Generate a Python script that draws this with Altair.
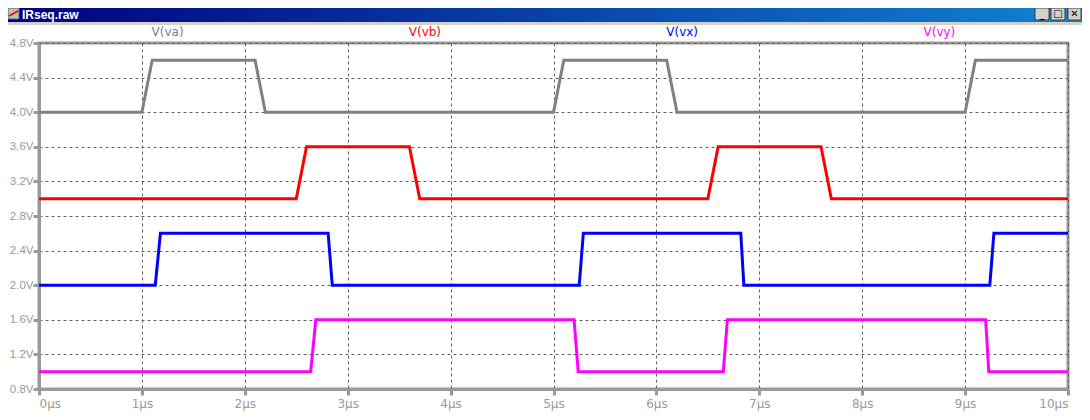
import altair as alt
import pandas as pd

# ---- data ----
t_va = [0, 1.0, 1.1, 2.1, 2.2, 5.0, 5.1, 6.1, 6.2, 9.0, 9.1, 10]
v_va = [4.0, 4.0, 4.6, 4.6, 4.0, 4.0, 4.6, 4.6, 4.0, 4.0, 4.6, 4.6]
t_vb = [0, 2.5, 2.6, 3.6, 3.7, 6.5, 6.6, 7.6, 7.7, 10]
v_vb = [3.0, 3.0, 3.6, 3.6, 3.0, 3.0, 3.6, 3.6, 3.0, 3.0]
t_vx = [0, 1.13, 1.18, 2.81, 2.85, 5.25, 5.29, 6.82, 6.85, 9.24, 9.28, 10]
v_vx = [2.0, 2.0, 2.6, 2.6, 2.0, 2.0, 2.6, 2.6, 2.0, 2.0, 2.6, 2.6]
t_vy = [0, 2.64, 2.69, 5.20, 5.24, 6.65, 6.69, 9.20, 9.23, 10]
v_vy = [1.0, 1.0, 1.6, 1.6, 1.0, 1.0, 1.6, 1.6, 1.0, 1.0]

series_names = ["V(va)", "V(vb)", "V(vx)", "V(vy)"]
series_colors = ["#808080", "#ff0000", "#0000ff", "#ff00ff"]
x_ticks = list(range(0, 11))
y_ticks = [0.8, 1.2, 1.6, 2.0, 2.4, 2.8, 3.2, 3.6, 4.0, 4.4, 4.8]
window_title = "IRseq.raw"

W, H = 1029, 346
PAD_L, PAD_T = 31, 35
SVG_W, SVG_H = 1074, 404

rows = []
for name, ts, vs in zip(series_names, [t_va, t_vb, t_vx, t_vy], [v_va, v_vb, v_vx, v_vy]):
    for i, (t, v) in enumerate(zip(ts, vs)):
        rows.append({"series": name, "t": t, "v": v, "i": i})
df = pd.DataFrame(rows)

xscale = alt.Scale(domain=[0, 10], nice=False, zero=False)
yscale = alt.Scale(domain=[0.8, 4.8], nice=False, zero=False)

lines = alt.Chart(df).mark_line(strokeWidth=3, strokeJoin="miter").encode(
    x=alt.X("t:Q", scale=xscale, axis=alt.Axis(
        values=x_ticks, title=None, labelExpr="datum.value + 'µs'",
        labelPadding=3, labelFont="DejaVu Sans", labelFontSize=12)),
    y=alt.Y("v:Q", scale=yscale, axis=alt.Axis(
        values=y_ticks, title=None, labelExpr="format(datum.value, '.1f') + 'V'",
        labelPadding=0, labelFont="Liberation Sans", labelFontSize=11.5)),
    color=alt.Color("series:N", scale=alt.Scale(domain=series_names, range=series_colors), legend=None),
    order="i:Q",
    detail="series:N",
)

one = pd.DataFrame({"a": [0]})

decor = []
# title bar
decor.append(alt.Chart(one).mark_rect(
    fill=alt.LinearGradient(gradient="linear",
                            stops=[alt.GradientStop(offset=0, color="#000080"),
                                   alt.GradientStop(offset=1, color="#1084d0")],
                            x1=0, x2=1, y1=0, y2=0)
).encode(x=alt.value(-PAD_L), x2=alt.value(SVG_W - PAD_L), y=alt.value(-PAD_T), y2=alt.value(-21)))
# grey band below title bar
decor.append(alt.Chart(one).mark_rect(fill="#d4d0c8").encode(
    x=alt.value(-PAD_L), x2=alt.value(SVG_W - PAD_L), y=alt.value(-21), y2=alt.value(-18)))
# icon
decor.append(alt.Chart(one).mark_rect(fill="#c0c0c0", stroke="#606060", strokeWidth=1).encode(
    x=alt.value(-31), x2=alt.value(-20), y=alt.value(-35), y2=alt.value(-24)))
decor.append(alt.Chart(one).mark_rule(color="#ff0000", strokeWidth=2).encode(
    x=alt.value(-30), x2=alt.value(-21), y=alt.value(-27), y2=alt.value(-32)))
# title text
decor.append(alt.Chart(one).mark_text(
    text=window_title, font="Liberation Sans", fontSize=12, fontWeight="bold", color="white",
    align="left", baseline="alphabetic").encode(x=alt.value(-17), y=alt.value(-24)))
# buttons (minimize, maximize, close) at the right end of the title bar
for (bx0, bx1, glyph) in [(996, 1010, "_"), (1012, 1026, "□"), (1029, 1042, "✕")]:
    decor.append(alt.Chart(one).mark_rect(fill="#d4d0c8", stroke="#404040", strokeWidth=1).encode(
        x=alt.value(bx0), x2=alt.value(bx1), y=alt.value(-35), y2=alt.value(-23)))
    decor.append(alt.Chart(one).mark_text(
        text=glyph, fontSize=10, fontWeight="bold", color="black", font="DejaVu Sans",
        align="center", baseline="middle").encode(
        x=alt.value((bx0 + bx1) / 2), y=alt.value(-29)))

# legend labels across the top
for k, (name, col) in enumerate(zip(series_names, series_colors)):
    decor.append(alt.Chart(one).mark_text(
        text=name, font="DejaVu Sans", fontSize=12, color=col,
        align="center", baseline="middle").encode(
        x=alt.value((k + 0.5) * W / 4), y=alt.value(-11)))

chart = alt.layer(lines, *decor).properties(
    width=W, height=H,
    padding={"left": PAD_L, "top": PAD_T, "right": SVG_W - PAD_L - W, "bottom": SVG_H - PAD_T - H},
    autosize=alt.AutoSizeParams(type="none"),
    background="white",
).configure_view(
    stroke="#999999", strokeWidth=3
).configure_axis(
    domainColor="#999999", domainWidth=3,
    tickColor="#999999", tickWidth=3, tickSize=6,
    labelColor="#999999",
    grid=True, gridColor="#606060", gridDash=[3, 3], gridWidth=1,
)

chart.save("out.html", embed_options={"renderer": "svg", "actions": False})
